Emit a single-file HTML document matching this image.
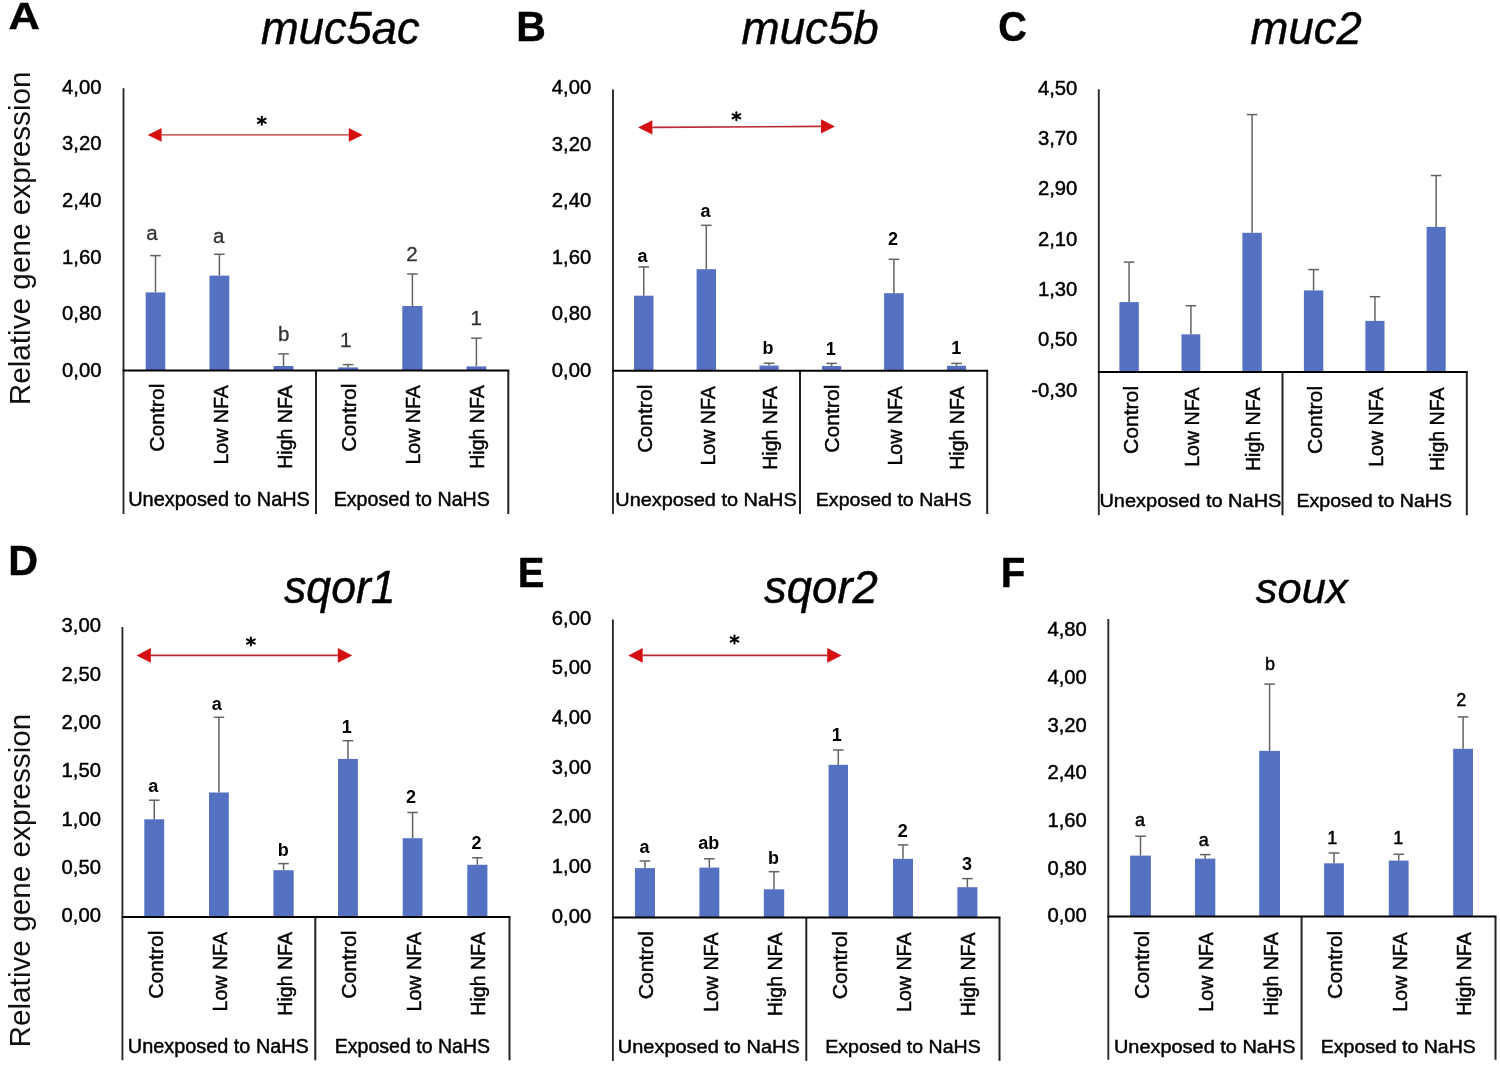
<!DOCTYPE html>
<html><head><meta charset="utf-8"><style>
html,body{margin:0;padding:0;background:#fff;}
svg{display:block;font-family:"Liberation Sans", sans-serif;will-change:transform;}
</style></head><body>
<svg width="1500" height="1072" viewBox="0 0 1500 1072">
<rect width="1500" height="1072" fill="#fff"/>
<rect x="145.70" y="292.40" width="19.60" height="78.20" fill="#5471C2"/>
<rect x="209.50" y="275.60" width="19.80" height="95.00" fill="#5471C2"/>
<rect x="273.50" y="366.00" width="20.00" height="4.60" fill="#5471C2"/>
<rect x="338.10" y="367.40" width="20.00" height="3.20" fill="#5471C2"/>
<rect x="402.30" y="306.00" width="20.20" height="64.60" fill="#5471C2"/>
<rect x="466.50" y="366.40" width="19.80" height="4.20" fill="#5471C2"/>
<line x1="155.50" y1="292.40" x2="155.50" y2="255.60" stroke="#636363" stroke-width="1.5"/>
<line x1="150.20" y1="255.60" x2="160.80" y2="255.60" stroke="#636363" stroke-width="1.5"/>
<line x1="219.40" y1="275.60" x2="219.40" y2="254.30" stroke="#636363" stroke-width="1.5"/>
<line x1="214.10" y1="254.30" x2="224.70" y2="254.30" stroke="#636363" stroke-width="1.5"/>
<line x1="283.50" y1="366.00" x2="283.50" y2="353.90" stroke="#636363" stroke-width="1.5"/>
<line x1="278.20" y1="353.90" x2="288.80" y2="353.90" stroke="#636363" stroke-width="1.5"/>
<line x1="348.10" y1="367.40" x2="348.10" y2="364.60" stroke="#636363" stroke-width="1.5"/>
<line x1="342.80" y1="364.60" x2="353.40" y2="364.60" stroke="#636363" stroke-width="1.5"/>
<line x1="412.40" y1="306.00" x2="412.40" y2="274.00" stroke="#636363" stroke-width="1.5"/>
<line x1="407.10" y1="274.00" x2="417.70" y2="274.00" stroke="#636363" stroke-width="1.5"/>
<line x1="476.40" y1="366.40" x2="476.40" y2="338.20" stroke="#636363" stroke-width="1.5"/>
<line x1="471.10" y1="338.20" x2="481.70" y2="338.20" stroke="#636363" stroke-width="1.5"/>
<line x1="123.5" y1="88.2" x2="123.5" y2="514.0" stroke="#2a2a2a" stroke-width="1.9"/>
<line x1="316.0" y1="370.6" x2="316.0" y2="514.0" stroke="#222" stroke-width="2"/>
<line x1="508.3" y1="370.6" x2="508.3" y2="514.0" stroke="#222" stroke-width="2"/>
<line x1="122.6" y1="370.6" x2="509.2" y2="370.6" stroke="#000" stroke-width="2"/>
<text transform="translate(62.08,93.55) scale(0.2025,0.2034)" font-size="100" fill="#000" stroke="#000" stroke-width="0.45" vector-effect="non-scaling-stroke">4,00</text>
<text transform="translate(62.08,150.23) scale(0.2025,0.2034)" font-size="100" fill="#000" stroke="#000" stroke-width="0.45" vector-effect="non-scaling-stroke">3,20</text>
<text transform="translate(62.08,206.91) scale(0.2025,0.2034)" font-size="100" fill="#000" stroke="#000" stroke-width="0.45" vector-effect="non-scaling-stroke">2,40</text>
<text transform="translate(62.08,263.59) scale(0.2025,0.2034)" font-size="100" fill="#000" stroke="#000" stroke-width="0.45" vector-effect="non-scaling-stroke">1,60</text>
<text transform="translate(62.08,320.27) scale(0.2025,0.2034)" font-size="100" fill="#000" stroke="#000" stroke-width="0.45" vector-effect="non-scaling-stroke">0,80</text>
<text transform="translate(62.08,376.95) scale(0.2025,0.2034)" font-size="100" fill="#000" stroke="#000" stroke-width="0.45" vector-effect="non-scaling-stroke">0,00</text>
<text transform="translate(163.67,451.79) rotate(-90) scale(0.2115,0.2111)" font-size="100" stroke="#000" stroke-width="0.45" vector-effect="non-scaling-stroke" fill="#000">Control</text>
<text transform="translate(227.80,464.53) rotate(-90) scale(0.1958,0.2111)" font-size="100" stroke="#000" stroke-width="0.45" vector-effect="non-scaling-stroke" fill="#000">Low NFA</text>
<text transform="translate(291.93,468.73) rotate(-90) scale(0.1954,0.2111)" font-size="100" stroke="#000" stroke-width="0.45" vector-effect="non-scaling-stroke" fill="#000">High NFA</text>
<text transform="translate(356.07,451.79) rotate(-90) scale(0.2115,0.2111)" font-size="100" stroke="#000" stroke-width="0.45" vector-effect="non-scaling-stroke" fill="#000">Control</text>
<text transform="translate(420.20,464.53) rotate(-90) scale(0.1958,0.2111)" font-size="100" stroke="#000" stroke-width="0.45" vector-effect="non-scaling-stroke" fill="#000">Low NFA</text>
<text transform="translate(484.33,468.73) rotate(-90) scale(0.1954,0.2111)" font-size="100" stroke="#000" stroke-width="0.45" vector-effect="non-scaling-stroke" fill="#000">High NFA</text>
<text transform="translate(128.15,506.40) scale(0.1996,0.1961)" font-size="100" stroke="#000" stroke-width="0.45" vector-effect="non-scaling-stroke" fill="#000">Unexposed to NaHS</text>
<text transform="translate(333.66,506.40) scale(0.1967,0.1961)" font-size="100" stroke="#000" stroke-width="0.45" vector-effect="non-scaling-stroke" fill="#000">Exposed to NaHS</text>
<rect x="634.00" y="295.70" width="19.50" height="75.10" fill="#5471C2"/>
<rect x="696.60" y="269.20" width="19.40" height="101.60" fill="#5471C2"/>
<rect x="759.50" y="365.60" width="19.20" height="5.20" fill="#5471C2"/>
<rect x="822.00" y="366.00" width="19.20" height="4.80" fill="#5471C2"/>
<rect x="884.10" y="293.20" width="19.60" height="77.60" fill="#5471C2"/>
<rect x="947.00" y="365.80" width="19.00" height="5.00" fill="#5471C2"/>
<line x1="643.75" y1="295.70" x2="643.75" y2="266.90" stroke="#636363" stroke-width="1.5"/>
<line x1="638.45" y1="266.90" x2="649.05" y2="266.90" stroke="#636363" stroke-width="1.5"/>
<line x1="706.30" y1="269.20" x2="706.30" y2="225.30" stroke="#636363" stroke-width="1.5"/>
<line x1="701.00" y1="225.30" x2="711.60" y2="225.30" stroke="#636363" stroke-width="1.5"/>
<line x1="769.10" y1="365.60" x2="769.10" y2="363.20" stroke="#636363" stroke-width="1.5"/>
<line x1="763.80" y1="363.20" x2="774.40" y2="363.20" stroke="#636363" stroke-width="1.5"/>
<line x1="831.60" y1="366.00" x2="831.60" y2="363.40" stroke="#636363" stroke-width="1.5"/>
<line x1="826.30" y1="363.40" x2="836.90" y2="363.40" stroke="#636363" stroke-width="1.5"/>
<line x1="893.90" y1="293.20" x2="893.90" y2="259.30" stroke="#636363" stroke-width="1.5"/>
<line x1="888.60" y1="259.30" x2="899.20" y2="259.30" stroke="#636363" stroke-width="1.5"/>
<line x1="956.50" y1="365.80" x2="956.50" y2="363.40" stroke="#636363" stroke-width="1.5"/>
<line x1="951.20" y1="363.40" x2="961.80" y2="363.40" stroke="#636363" stroke-width="1.5"/>
<line x1="613.0" y1="89.6" x2="613.0" y2="514.0" stroke="#2a2a2a" stroke-width="1.9"/>
<line x1="800.0" y1="370.8" x2="800.0" y2="514.0" stroke="#222" stroke-width="2"/>
<line x1="987.2" y1="370.8" x2="987.2" y2="514.0" stroke="#222" stroke-width="2"/>
<line x1="612.1" y1="370.8" x2="988.1" y2="370.8" stroke="#000" stroke-width="2"/>
<text transform="translate(551.78,94.05) scale(0.2025,0.2034)" font-size="100" fill="#000" stroke="#000" stroke-width="0.45" vector-effect="non-scaling-stroke">4,00</text>
<text transform="translate(551.78,150.65) scale(0.2025,0.2034)" font-size="100" fill="#000" stroke="#000" stroke-width="0.45" vector-effect="non-scaling-stroke">3,20</text>
<text transform="translate(551.78,207.25) scale(0.2025,0.2034)" font-size="100" fill="#000" stroke="#000" stroke-width="0.45" vector-effect="non-scaling-stroke">2,40</text>
<text transform="translate(551.78,263.85) scale(0.2025,0.2034)" font-size="100" fill="#000" stroke="#000" stroke-width="0.45" vector-effect="non-scaling-stroke">1,60</text>
<text transform="translate(551.78,320.45) scale(0.2025,0.2034)" font-size="100" fill="#000" stroke="#000" stroke-width="0.45" vector-effect="non-scaling-stroke">0,80</text>
<text transform="translate(551.78,377.05) scale(0.2025,0.2034)" font-size="100" fill="#000" stroke="#000" stroke-width="0.45" vector-effect="non-scaling-stroke">0,00</text>
<text transform="translate(652.28,452.79) rotate(-90) scale(0.2115,0.2111)" font-size="100" stroke="#000" stroke-width="0.45" vector-effect="non-scaling-stroke" fill="#000">Control</text>
<text transform="translate(714.65,465.53) rotate(-90) scale(0.1958,0.2111)" font-size="100" stroke="#000" stroke-width="0.45" vector-effect="non-scaling-stroke" fill="#000">Low NFA</text>
<text transform="translate(777.02,469.73) rotate(-90) scale(0.1954,0.2111)" font-size="100" stroke="#000" stroke-width="0.45" vector-effect="non-scaling-stroke" fill="#000">High NFA</text>
<text transform="translate(839.38,452.79) rotate(-90) scale(0.2115,0.2111)" font-size="100" stroke="#000" stroke-width="0.45" vector-effect="non-scaling-stroke" fill="#000">Control</text>
<text transform="translate(901.75,465.53) rotate(-90) scale(0.1958,0.2111)" font-size="100" stroke="#000" stroke-width="0.45" vector-effect="non-scaling-stroke" fill="#000">Low NFA</text>
<text transform="translate(964.12,469.73) rotate(-90) scale(0.1954,0.2111)" font-size="100" stroke="#000" stroke-width="0.45" vector-effect="non-scaling-stroke" fill="#000">High NFA</text>
<text transform="translate(615.26,506.00) scale(0.1992,0.1811)" font-size="100" stroke="#000" stroke-width="0.45" vector-effect="non-scaling-stroke" fill="#000">Unexposed to NaHS</text>
<text transform="translate(815.77,506.00) scale(0.1959,0.1811)" font-size="100" stroke="#000" stroke-width="0.45" vector-effect="non-scaling-stroke" fill="#000">Exposed to NaHS</text>
<rect x="1119.40" y="302.10" width="19.40" height="69.90" fill="#5471C2"/>
<rect x="1181.50" y="334.30" width="18.80" height="37.70" fill="#5471C2"/>
<rect x="1242.40" y="232.80" width="19.40" height="139.20" fill="#5471C2"/>
<rect x="1303.90" y="290.40" width="19.40" height="81.60" fill="#5471C2"/>
<rect x="1365.40" y="320.90" width="19.10" height="51.10" fill="#5471C2"/>
<rect x="1426.60" y="226.90" width="19.10" height="145.10" fill="#5471C2"/>
<line x1="1129.10" y1="302.10" x2="1129.10" y2="262.10" stroke="#636363" stroke-width="1.5"/>
<line x1="1123.80" y1="262.10" x2="1134.40" y2="262.10" stroke="#636363" stroke-width="1.5"/>
<line x1="1190.90" y1="334.30" x2="1190.90" y2="305.70" stroke="#636363" stroke-width="1.5"/>
<line x1="1185.60" y1="305.70" x2="1196.20" y2="305.70" stroke="#636363" stroke-width="1.5"/>
<line x1="1252.10" y1="232.80" x2="1252.10" y2="114.60" stroke="#636363" stroke-width="1.5"/>
<line x1="1246.80" y1="114.60" x2="1257.40" y2="114.60" stroke="#636363" stroke-width="1.5"/>
<line x1="1313.60" y1="290.40" x2="1313.60" y2="269.60" stroke="#636363" stroke-width="1.5"/>
<line x1="1308.30" y1="269.60" x2="1318.90" y2="269.60" stroke="#636363" stroke-width="1.5"/>
<line x1="1374.95" y1="320.90" x2="1374.95" y2="296.70" stroke="#636363" stroke-width="1.5"/>
<line x1="1369.65" y1="296.70" x2="1380.25" y2="296.70" stroke="#636363" stroke-width="1.5"/>
<line x1="1436.15" y1="226.90" x2="1436.15" y2="175.50" stroke="#636363" stroke-width="1.5"/>
<line x1="1430.85" y1="175.50" x2="1441.45" y2="175.50" stroke="#636363" stroke-width="1.5"/>
<line x1="1098.8" y1="89.3" x2="1098.8" y2="515.3" stroke="#2a2a2a" stroke-width="1.9"/>
<line x1="1282.5" y1="372.0" x2="1282.5" y2="515.3" stroke="#222" stroke-width="2"/>
<line x1="1466.8" y1="372.0" x2="1466.8" y2="515.3" stroke="#222" stroke-width="2"/>
<line x1="1097.8999999999999" y1="372.0" x2="1467.7" y2="372.0" stroke="#000" stroke-width="2"/>
<text transform="translate(1037.88,94.54) scale(0.2025,0.2034)" font-size="100" fill="#000" stroke="#000" stroke-width="0.45" vector-effect="non-scaling-stroke">4,50</text>
<text transform="translate(1037.88,144.91) scale(0.2025,0.2034)" font-size="100" fill="#000" stroke="#000" stroke-width="0.45" vector-effect="non-scaling-stroke">3,70</text>
<text transform="translate(1037.88,195.28) scale(0.2025,0.2034)" font-size="100" fill="#000" stroke="#000" stroke-width="0.45" vector-effect="non-scaling-stroke">2,90</text>
<text transform="translate(1037.88,245.65) scale(0.2025,0.2034)" font-size="100" fill="#000" stroke="#000" stroke-width="0.45" vector-effect="non-scaling-stroke">2,10</text>
<text transform="translate(1037.88,296.01) scale(0.2025,0.2034)" font-size="100" fill="#000" stroke="#000" stroke-width="0.45" vector-effect="non-scaling-stroke">1,30</text>
<text transform="translate(1037.88,346.38) scale(0.2025,0.2034)" font-size="100" fill="#000" stroke="#000" stroke-width="0.45" vector-effect="non-scaling-stroke">0,50</text>
<text transform="translate(1031.14,396.75) scale(0.2025,0.2034)" font-size="100" fill="#000" stroke="#000" stroke-width="0.45" vector-effect="non-scaling-stroke">-0,30</text>
<text transform="translate(1137.57,454.09) rotate(-90) scale(0.2115,0.2111)" font-size="100" stroke="#000" stroke-width="0.45" vector-effect="non-scaling-stroke" fill="#000">Control</text>
<text transform="translate(1198.90,466.83) rotate(-90) scale(0.1958,0.2111)" font-size="100" stroke="#000" stroke-width="0.45" vector-effect="non-scaling-stroke" fill="#000">Low NFA</text>
<text transform="translate(1260.23,471.03) rotate(-90) scale(0.1954,0.2111)" font-size="100" stroke="#000" stroke-width="0.45" vector-effect="non-scaling-stroke" fill="#000">High NFA</text>
<text transform="translate(1321.57,454.09) rotate(-90) scale(0.2115,0.2111)" font-size="100" stroke="#000" stroke-width="0.45" vector-effect="non-scaling-stroke" fill="#000">Control</text>
<text transform="translate(1382.90,466.83) rotate(-90) scale(0.1958,0.2111)" font-size="100" stroke="#000" stroke-width="0.45" vector-effect="non-scaling-stroke" fill="#000">Low NFA</text>
<text transform="translate(1444.23,471.03) rotate(-90) scale(0.1954,0.2111)" font-size="100" stroke="#000" stroke-width="0.45" vector-effect="non-scaling-stroke" fill="#000">High NFA</text>
<text transform="translate(1099.45,507.30) scale(0.1997,0.1811)" font-size="100" stroke="#000" stroke-width="0.45" vector-effect="non-scaling-stroke" fill="#000">Unexposed to NaHS</text>
<text transform="translate(1296.47,507.30) scale(0.1958,0.1811)" font-size="100" stroke="#000" stroke-width="0.45" vector-effect="non-scaling-stroke" fill="#000">Exposed to NaHS</text>
<rect x="144.30" y="819.30" width="19.90" height="97.70" fill="#5471C2"/>
<rect x="209.00" y="792.50" width="19.80" height="124.50" fill="#5471C2"/>
<rect x="273.40" y="870.20" width="20.30" height="46.80" fill="#5471C2"/>
<rect x="338.00" y="758.90" width="19.90" height="158.10" fill="#5471C2"/>
<rect x="402.70" y="838.20" width="19.80" height="78.80" fill="#5471C2"/>
<rect x="467.30" y="864.80" width="20.10" height="52.20" fill="#5471C2"/>
<line x1="154.25" y1="819.30" x2="154.25" y2="800.20" stroke="#636363" stroke-width="1.5"/>
<line x1="148.95" y1="800.20" x2="159.55" y2="800.20" stroke="#636363" stroke-width="1.5"/>
<line x1="218.90" y1="792.50" x2="218.90" y2="717.30" stroke="#636363" stroke-width="1.5"/>
<line x1="213.60" y1="717.30" x2="224.20" y2="717.30" stroke="#636363" stroke-width="1.5"/>
<line x1="283.55" y1="870.20" x2="283.55" y2="863.60" stroke="#636363" stroke-width="1.5"/>
<line x1="278.25" y1="863.60" x2="288.85" y2="863.60" stroke="#636363" stroke-width="1.5"/>
<line x1="347.95" y1="758.90" x2="347.95" y2="740.70" stroke="#636363" stroke-width="1.5"/>
<line x1="342.65" y1="740.70" x2="353.25" y2="740.70" stroke="#636363" stroke-width="1.5"/>
<line x1="412.60" y1="838.20" x2="412.60" y2="812.50" stroke="#636363" stroke-width="1.5"/>
<line x1="407.30" y1="812.50" x2="417.90" y2="812.50" stroke="#636363" stroke-width="1.5"/>
<line x1="477.35" y1="864.80" x2="477.35" y2="857.80" stroke="#636363" stroke-width="1.5"/>
<line x1="472.05" y1="857.80" x2="482.65" y2="857.80" stroke="#636363" stroke-width="1.5"/>
<line x1="122.4" y1="627.1" x2="122.4" y2="1060.3" stroke="#2a2a2a" stroke-width="1.9"/>
<line x1="315.3" y1="917.0" x2="315.3" y2="1060.3" stroke="#222" stroke-width="2"/>
<line x1="509.5" y1="917.0" x2="509.5" y2="1060.3" stroke="#222" stroke-width="2"/>
<line x1="121.5" y1="917.0" x2="510.4" y2="917.0" stroke="#000" stroke-width="2"/>
<text transform="translate(61.58,632.45) scale(0.2025,0.2034)" font-size="100" fill="#000" stroke="#000" stroke-width="0.45" vector-effect="non-scaling-stroke">3,00</text>
<text transform="translate(61.58,680.75) scale(0.2025,0.2034)" font-size="100" fill="#000" stroke="#000" stroke-width="0.45" vector-effect="non-scaling-stroke">2,50</text>
<text transform="translate(61.58,729.05) scale(0.2025,0.2034)" font-size="100" fill="#000" stroke="#000" stroke-width="0.45" vector-effect="non-scaling-stroke">2,00</text>
<text transform="translate(61.58,777.35) scale(0.2025,0.2034)" font-size="100" fill="#000" stroke="#000" stroke-width="0.45" vector-effect="non-scaling-stroke">1,50</text>
<text transform="translate(61.58,825.65) scale(0.2025,0.2034)" font-size="100" fill="#000" stroke="#000" stroke-width="0.45" vector-effect="non-scaling-stroke">1,00</text>
<text transform="translate(61.58,873.95) scale(0.2025,0.2034)" font-size="100" fill="#000" stroke="#000" stroke-width="0.45" vector-effect="non-scaling-stroke">0,50</text>
<text transform="translate(61.58,922.25) scale(0.2025,0.2034)" font-size="100" fill="#000" stroke="#000" stroke-width="0.45" vector-effect="non-scaling-stroke">0,00</text>
<text transform="translate(162.76,998.69) rotate(-90) scale(0.2115,0.2111)" font-size="100" stroke="#000" stroke-width="0.45" vector-effect="non-scaling-stroke" fill="#000">Control</text>
<text transform="translate(227.28,1011.43) rotate(-90) scale(0.1958,0.2111)" font-size="100" stroke="#000" stroke-width="0.45" vector-effect="non-scaling-stroke" fill="#000">Low NFA</text>
<text transform="translate(291.79,1015.63) rotate(-90) scale(0.1954,0.2111)" font-size="100" stroke="#000" stroke-width="0.45" vector-effect="non-scaling-stroke" fill="#000">High NFA</text>
<text transform="translate(356.31,998.69) rotate(-90) scale(0.2115,0.2111)" font-size="100" stroke="#000" stroke-width="0.45" vector-effect="non-scaling-stroke" fill="#000">Control</text>
<text transform="translate(420.83,1011.43) rotate(-90) scale(0.1958,0.2111)" font-size="100" stroke="#000" stroke-width="0.45" vector-effect="non-scaling-stroke" fill="#000">Low NFA</text>
<text transform="translate(485.34,1015.63) rotate(-90) scale(0.1954,0.2111)" font-size="100" stroke="#000" stroke-width="0.45" vector-effect="non-scaling-stroke" fill="#000">High NFA</text>
<text transform="translate(127.86,1052.70) scale(0.1986,0.1934)" font-size="100" stroke="#000" stroke-width="0.45" vector-effect="non-scaling-stroke" fill="#000">Unexposed to NaHS</text>
<text transform="translate(334.77,1052.70) scale(0.1954,0.1934)" font-size="100" stroke="#000" stroke-width="0.45" vector-effect="non-scaling-stroke" fill="#000">Exposed to NaHS</text>
<rect x="635.00" y="868.10" width="20.00" height="49.40" fill="#5471C2"/>
<rect x="699.40" y="867.60" width="19.90" height="49.90" fill="#5471C2"/>
<rect x="763.80" y="889.30" width="20.40" height="28.20" fill="#5471C2"/>
<rect x="828.60" y="764.80" width="19.40" height="152.70" fill="#5471C2"/>
<rect x="893.00" y="858.80" width="20.00" height="58.70" fill="#5471C2"/>
<rect x="957.40" y="887.20" width="20.00" height="30.30" fill="#5471C2"/>
<line x1="645.00" y1="868.10" x2="645.00" y2="861.00" stroke="#636363" stroke-width="1.5"/>
<line x1="639.70" y1="861.00" x2="650.30" y2="861.00" stroke="#636363" stroke-width="1.5"/>
<line x1="709.35" y1="867.60" x2="709.35" y2="858.80" stroke="#636363" stroke-width="1.5"/>
<line x1="704.05" y1="858.80" x2="714.65" y2="858.80" stroke="#636363" stroke-width="1.5"/>
<line x1="774.00" y1="889.30" x2="774.00" y2="871.70" stroke="#636363" stroke-width="1.5"/>
<line x1="768.70" y1="871.70" x2="779.30" y2="871.70" stroke="#636363" stroke-width="1.5"/>
<line x1="838.30" y1="764.80" x2="838.30" y2="750.00" stroke="#636363" stroke-width="1.5"/>
<line x1="833.00" y1="750.00" x2="843.60" y2="750.00" stroke="#636363" stroke-width="1.5"/>
<line x1="903.00" y1="858.80" x2="903.00" y2="844.90" stroke="#636363" stroke-width="1.5"/>
<line x1="897.70" y1="844.90" x2="908.30" y2="844.90" stroke="#636363" stroke-width="1.5"/>
<line x1="967.40" y1="887.20" x2="967.40" y2="878.60" stroke="#636363" stroke-width="1.5"/>
<line x1="962.10" y1="878.60" x2="972.70" y2="878.60" stroke="#636363" stroke-width="1.5"/>
<line x1="612.9" y1="619.5" x2="612.9" y2="1060.9" stroke="#2a2a2a" stroke-width="1.9"/>
<line x1="806.3" y1="917.5" x2="806.3" y2="1060.9" stroke="#222" stroke-width="2"/>
<line x1="999.5" y1="917.5" x2="999.5" y2="1060.9" stroke="#222" stroke-width="2"/>
<line x1="612.0" y1="917.5" x2="1000.4" y2="917.5" stroke="#000" stroke-width="2"/>
<text transform="translate(551.78,624.65) scale(0.2025,0.2034)" font-size="100" fill="#000" stroke="#000" stroke-width="0.45" vector-effect="non-scaling-stroke">6,00</text>
<text transform="translate(551.78,674.35) scale(0.2025,0.2034)" font-size="100" fill="#000" stroke="#000" stroke-width="0.45" vector-effect="non-scaling-stroke">5,00</text>
<text transform="translate(551.78,724.05) scale(0.2025,0.2034)" font-size="100" fill="#000" stroke="#000" stroke-width="0.45" vector-effect="non-scaling-stroke">4,00</text>
<text transform="translate(551.78,773.75) scale(0.2025,0.2034)" font-size="100" fill="#000" stroke="#000" stroke-width="0.45" vector-effect="non-scaling-stroke">3,00</text>
<text transform="translate(551.78,823.45) scale(0.2025,0.2034)" font-size="100" fill="#000" stroke="#000" stroke-width="0.45" vector-effect="non-scaling-stroke">2,00</text>
<text transform="translate(551.78,873.15) scale(0.2025,0.2034)" font-size="100" fill="#000" stroke="#000" stroke-width="0.45" vector-effect="non-scaling-stroke">1,00</text>
<text transform="translate(551.78,922.85) scale(0.2025,0.2034)" font-size="100" fill="#000" stroke="#000" stroke-width="0.45" vector-effect="non-scaling-stroke">0,00</text>
<text transform="translate(653.22,999.19) rotate(-90) scale(0.2115,0.2111)" font-size="100" stroke="#000" stroke-width="0.45" vector-effect="non-scaling-stroke" fill="#000">Control</text>
<text transform="translate(717.65,1011.93) rotate(-90) scale(0.1958,0.2111)" font-size="100" stroke="#000" stroke-width="0.45" vector-effect="non-scaling-stroke" fill="#000">Low NFA</text>
<text transform="translate(782.08,1016.13) rotate(-90) scale(0.1954,0.2111)" font-size="100" stroke="#000" stroke-width="0.45" vector-effect="non-scaling-stroke" fill="#000">High NFA</text>
<text transform="translate(846.52,999.19) rotate(-90) scale(0.2115,0.2111)" font-size="100" stroke="#000" stroke-width="0.45" vector-effect="non-scaling-stroke" fill="#000">Control</text>
<text transform="translate(910.95,1011.93) rotate(-90) scale(0.1958,0.2111)" font-size="100" stroke="#000" stroke-width="0.45" vector-effect="non-scaling-stroke" fill="#000">Low NFA</text>
<text transform="translate(975.38,1016.13) rotate(-90) scale(0.1954,0.2111)" font-size="100" stroke="#000" stroke-width="0.45" vector-effect="non-scaling-stroke" fill="#000">High NFA</text>
<text transform="translate(617.85,1052.70) scale(0.1996,0.1866)" font-size="100" stroke="#000" stroke-width="0.45" vector-effect="non-scaling-stroke" fill="#000">Unexposed to NaHS</text>
<text transform="translate(825.27,1052.70) scale(0.1956,0.1866)" font-size="100" stroke="#000" stroke-width="0.45" vector-effect="non-scaling-stroke" fill="#000">Exposed to NaHS</text>
<rect x="1130.10" y="855.60" width="20.80" height="61.00" fill="#5471C2"/>
<rect x="1195.00" y="858.60" width="20.30" height="58.00" fill="#5471C2"/>
<rect x="1259.20" y="750.90" width="20.80" height="165.70" fill="#5471C2"/>
<rect x="1324.10" y="863.30" width="19.80" height="53.30" fill="#5471C2"/>
<rect x="1388.80" y="860.60" width="19.80" height="56.00" fill="#5471C2"/>
<rect x="1453.20" y="748.80" width="19.80" height="167.80" fill="#5471C2"/>
<line x1="1140.50" y1="855.60" x2="1140.50" y2="836.20" stroke="#636363" stroke-width="1.5"/>
<line x1="1135.20" y1="836.20" x2="1145.80" y2="836.20" stroke="#636363" stroke-width="1.5"/>
<line x1="1205.15" y1="858.60" x2="1205.15" y2="854.60" stroke="#636363" stroke-width="1.5"/>
<line x1="1199.85" y1="854.60" x2="1210.45" y2="854.60" stroke="#636363" stroke-width="1.5"/>
<line x1="1269.60" y1="750.90" x2="1269.60" y2="684.10" stroke="#636363" stroke-width="1.5"/>
<line x1="1264.30" y1="684.10" x2="1274.90" y2="684.10" stroke="#636363" stroke-width="1.5"/>
<line x1="1334.00" y1="863.30" x2="1334.00" y2="853.00" stroke="#636363" stroke-width="1.5"/>
<line x1="1328.70" y1="853.00" x2="1339.30" y2="853.00" stroke="#636363" stroke-width="1.5"/>
<line x1="1398.70" y1="860.60" x2="1398.70" y2="854.30" stroke="#636363" stroke-width="1.5"/>
<line x1="1393.40" y1="854.30" x2="1404.00" y2="854.30" stroke="#636363" stroke-width="1.5"/>
<line x1="1463.10" y1="748.80" x2="1463.10" y2="716.90" stroke="#636363" stroke-width="1.5"/>
<line x1="1457.80" y1="716.90" x2="1468.40" y2="716.90" stroke="#636363" stroke-width="1.5"/>
<line x1="1108.3" y1="619.1" x2="1108.3" y2="1059.8" stroke="#2a2a2a" stroke-width="1.9"/>
<line x1="1301.6" y1="916.6" x2="1301.6" y2="1059.8" stroke="#222" stroke-width="2"/>
<line x1="1495.5" y1="916.6" x2="1495.5" y2="1059.8" stroke="#222" stroke-width="2"/>
<line x1="1107.3999999999999" y1="916.6" x2="1496.4" y2="916.6" stroke="#000" stroke-width="2"/>
<text transform="translate(1047.38,636.17) scale(0.2025,0.2034)" font-size="100" fill="#000" stroke="#000" stroke-width="0.45" vector-effect="non-scaling-stroke">4,80</text>
<text transform="translate(1047.38,683.85) scale(0.2025,0.2034)" font-size="100" fill="#000" stroke="#000" stroke-width="0.45" vector-effect="non-scaling-stroke">4,00</text>
<text transform="translate(1047.38,731.53) scale(0.2025,0.2034)" font-size="100" fill="#000" stroke="#000" stroke-width="0.45" vector-effect="non-scaling-stroke">3,20</text>
<text transform="translate(1047.38,779.21) scale(0.2025,0.2034)" font-size="100" fill="#000" stroke="#000" stroke-width="0.45" vector-effect="non-scaling-stroke">2,40</text>
<text transform="translate(1047.38,826.89) scale(0.2025,0.2034)" font-size="100" fill="#000" stroke="#000" stroke-width="0.45" vector-effect="non-scaling-stroke">1,60</text>
<text transform="translate(1047.38,874.57) scale(0.2025,0.2034)" font-size="100" fill="#000" stroke="#000" stroke-width="0.45" vector-effect="non-scaling-stroke">0,80</text>
<text transform="translate(1047.38,922.25) scale(0.2025,0.2034)" font-size="100" fill="#000" stroke="#000" stroke-width="0.45" vector-effect="non-scaling-stroke">0,00</text>
<text transform="translate(1148.67,998.89) rotate(-90) scale(0.2115,0.2111)" font-size="100" stroke="#000" stroke-width="0.45" vector-effect="non-scaling-stroke" fill="#000">Control</text>
<text transform="translate(1213.20,1011.63) rotate(-90) scale(0.1958,0.2111)" font-size="100" stroke="#000" stroke-width="0.45" vector-effect="non-scaling-stroke" fill="#000">Low NFA</text>
<text transform="translate(1277.73,1015.83) rotate(-90) scale(0.1954,0.2111)" font-size="100" stroke="#000" stroke-width="0.45" vector-effect="non-scaling-stroke" fill="#000">High NFA</text>
<text transform="translate(1342.27,998.89) rotate(-90) scale(0.2115,0.2111)" font-size="100" stroke="#000" stroke-width="0.45" vector-effect="non-scaling-stroke" fill="#000">Control</text>
<text transform="translate(1406.80,1011.63) rotate(-90) scale(0.1958,0.2111)" font-size="100" stroke="#000" stroke-width="0.45" vector-effect="non-scaling-stroke" fill="#000">Low NFA</text>
<text transform="translate(1471.33,1015.83) rotate(-90) scale(0.1954,0.2111)" font-size="100" stroke="#000" stroke-width="0.45" vector-effect="non-scaling-stroke" fill="#000">High NFA</text>
<text transform="translate(1113.95,1052.50) scale(0.1993,0.1838)" font-size="100" stroke="#000" stroke-width="0.45" vector-effect="non-scaling-stroke" fill="#000">Unexposed to NaHS</text>
<text transform="translate(1320.78,1052.50) scale(0.1952,0.1838)" font-size="100" stroke="#000" stroke-width="0.45" vector-effect="non-scaling-stroke" fill="#000">Exposed to NaHS</text>
<text x="152.00" y="240.00" font-size="20.5" font-weight="normal" fill="#333" stroke="#333" stroke-width="0.3" text-anchor="middle">a</text>
<text x="218.80" y="243.00" font-size="20.5" font-weight="normal" fill="#333" stroke="#333" stroke-width="0.3" text-anchor="middle">a</text>
<text x="283.80" y="340.90" font-size="20.5" font-weight="normal" fill="#333" stroke="#333" stroke-width="0.3" text-anchor="middle">b</text>
<text x="345.70" y="347.40" font-size="20.5" font-weight="normal" fill="#333" stroke="#333" stroke-width="0.3" text-anchor="middle">1</text>
<text x="412.00" y="261.20" font-size="20.5" font-weight="normal" fill="#333" stroke="#333" stroke-width="0.3" text-anchor="middle">2</text>
<text x="476.30" y="324.60" font-size="20.5" font-weight="normal" fill="#333" stroke="#333" stroke-width="0.3" text-anchor="middle">1</text>
<text x="642.50" y="262.10" font-size="18.0" font-weight="bold" fill="#000" text-anchor="middle">a</text>
<text x="705.40" y="217.20" font-size="18.0" font-weight="bold" fill="#000" text-anchor="middle">a</text>
<text x="767.90" y="354.40" font-size="18.0" font-weight="bold" fill="#000" text-anchor="middle">b</text>
<text x="830.70" y="355.40" font-size="18.0" font-weight="bold" fill="#000" text-anchor="middle">1</text>
<text x="892.90" y="245.30" font-size="18.0" font-weight="bold" fill="#000" text-anchor="middle">2</text>
<text x="956.30" y="354.40" font-size="18.0" font-weight="bold" fill="#000" text-anchor="middle">1</text>
<text x="153.20" y="792.00" font-size="18.0" font-weight="bold" fill="#000" text-anchor="middle">a</text>
<text x="216.70" y="710.30" font-size="18.0" font-weight="bold" fill="#000" text-anchor="middle">a</text>
<text x="283.20" y="856.20" font-size="18.0" font-weight="bold" fill="#000" text-anchor="middle">b</text>
<text x="346.70" y="732.50" font-size="18.0" font-weight="bold" fill="#000" text-anchor="middle">1</text>
<text x="411.00" y="803.20" font-size="18.0" font-weight="bold" fill="#000" text-anchor="middle">2</text>
<text x="476.60" y="849.20" font-size="18.0" font-weight="bold" fill="#000" text-anchor="middle">2</text>
<text x="644.40" y="852.80" font-size="18.0" font-weight="bold" fill="#000" text-anchor="middle">a</text>
<text x="708.80" y="849.20" font-size="18.0" font-weight="bold" fill="#000" text-anchor="middle">ab</text>
<text x="773.40" y="864.20" font-size="18.0" font-weight="bold" fill="#000" text-anchor="middle">b</text>
<text x="836.80" y="741.20" font-size="18.0" font-weight="bold" fill="#000" text-anchor="middle">1</text>
<text x="902.70" y="836.70" font-size="18.0" font-weight="bold" fill="#000" text-anchor="middle">2</text>
<text x="967.10" y="869.60" font-size="18.0" font-weight="bold" fill="#000" text-anchor="middle">3</text>
<text x="1140.10" y="826.10" font-size="18.0" font-weight="normal" fill="#000" stroke="#000" stroke-width="0.45" text-anchor="middle">a</text>
<text x="1203.70" y="846.40" font-size="18.0" font-weight="normal" fill="#000" stroke="#000" stroke-width="0.45" text-anchor="middle">a</text>
<text x="1270.00" y="670.30" font-size="18.0" font-weight="normal" fill="#000" stroke="#000" stroke-width="0.45" text-anchor="middle">b</text>
<text x="1332.20" y="844.30" font-size="18.0" font-weight="normal" fill="#000" stroke="#000" stroke-width="0.45" text-anchor="middle">1</text>
<text x="1398.30" y="844.30" font-size="18.0" font-weight="normal" fill="#000" stroke="#000" stroke-width="0.45" text-anchor="middle">1</text>
<text x="1461.30" y="706.30" font-size="18.0" font-weight="normal" fill="#000" stroke="#000" stroke-width="0.45" text-anchor="middle">2</text>
<text transform="translate(8.42,28.80) scale(0.4349,0.3783)" font-size="100" font-weight="bold" stroke="#000" stroke-width="0.45" vector-effect="non-scaling-stroke" fill="#000">A</text>
<text transform="translate(516.34,41.30) scale(0.4096,0.4281)" font-size="100" font-weight="bold" stroke="#000" stroke-width="0.45" vector-effect="non-scaling-stroke" fill="#000">B</text>
<text transform="translate(998.26,40.90) scale(0.3959,0.4324)" font-size="100" font-weight="bold" stroke="#000" stroke-width="0.45" vector-effect="non-scaling-stroke" fill="#000">C</text>
<text transform="translate(8.32,575.00) scale(0.4128,0.4224)" font-size="100" font-weight="bold" stroke="#000" stroke-width="0.45" vector-effect="non-scaling-stroke" fill="#000">D</text>
<text transform="translate(517.80,587.20) scale(0.3996,0.4324)" font-size="100" font-weight="bold" stroke="#000" stroke-width="0.45" vector-effect="non-scaling-stroke" fill="#000">E</text>
<text transform="translate(1000.79,587.20) scale(0.4015,0.4281)" font-size="100" font-weight="bold" stroke="#000" stroke-width="0.45" vector-effect="non-scaling-stroke" fill="#000">F</text>
<text transform="translate(260.99,43.70) scale(0.4530,0.4551)" font-size="100" font-style="italic" stroke="#000" stroke-width="0.45" vector-effect="non-scaling-stroke" fill="#000">muc5ac</text>
<text transform="translate(741.59,43.70) scale(0.4573,0.4684)" font-size="100" font-style="italic" stroke="#000" stroke-width="0.45" vector-effect="non-scaling-stroke" fill="#000">muc5b</text>
<text transform="translate(1250.59,43.70) scale(0.4545,0.4551)" font-size="100" font-style="italic" stroke="#000" stroke-width="0.45" vector-effect="non-scaling-stroke" fill="#000">muc2</text>
<text transform="translate(284.00,602.50) scale(0.4466,0.4622)" font-size="100" font-style="italic" stroke="#000" stroke-width="0.45" vector-effect="non-scaling-stroke" fill="#000">sqor1</text>
<text transform="translate(764.00,602.50) scale(0.4554,0.4622)" font-size="100" font-style="italic" stroke="#000" stroke-width="0.45" vector-effect="non-scaling-stroke" fill="#000">sqor2</text>
<text transform="translate(1255.80,602.50) scale(0.4348,0.4297)" font-size="100" font-style="italic" stroke="#000" stroke-width="0.45" vector-effect="non-scaling-stroke" fill="#000">soux</text>
<text transform="translate(29.70,405.32) rotate(-90) scale(0.2975,0.3009)" font-size="100" fill="#111">Relative gene expression</text>
<text transform="translate(30.20,1047.52) rotate(-90) scale(0.2974,0.2928)" font-size="100" fill="#111">Relative gene expression</text>
<line x1="161.60" y1="134.90" x2="348.80" y2="134.90" stroke="#BB2A30" stroke-width="1.2"/>
<polygon points="147.70,134.90 161.60,128.00 161.60,141.80" fill="#D40F0F"/>
<polygon points="362.70,134.90 348.80,128.00 348.80,141.80" fill="#D40F0F"/>
<line x1="652.40" y1="127.40" x2="821.00" y2="126.40" stroke="#BB2A30" stroke-width="1.6"/>
<polygon points="638.10,127.40 652.40,120.30 652.40,134.50" fill="#D40F0F"/>
<polygon points="834.90,126.40 821.00,119.30 821.00,133.50" fill="#D40F0F"/>
<line x1="150.90" y1="655.40" x2="337.80" y2="655.40" stroke="#BB2A30" stroke-width="1.6"/>
<polygon points="136.50,655.40 150.90,648.10 150.90,662.70" fill="#D40F0F"/>
<polygon points="352.20,655.40 337.80,648.10 337.80,662.70" fill="#D40F0F"/>
<line x1="642.70" y1="655.40" x2="827.20" y2="655.40" stroke="#BB2A30" stroke-width="1.6"/>
<polygon points="628.30,655.40 642.70,648.10 642.70,662.70" fill="#D40F0F"/>
<polygon points="841.60,655.40 827.20,648.10 827.20,662.70" fill="#D40F0F"/>
<line x1="261.80" y1="116.80" x2="261.80" y2="124.80" stroke="#000" stroke-width="2" stroke-linecap="round"/>
<line x1="257.90" y1="118.70" x2="265.70" y2="122.90" stroke="#000" stroke-width="2" stroke-linecap="round"/>
<line x1="257.90" y1="122.90" x2="265.70" y2="118.70" stroke="#000" stroke-width="2" stroke-linecap="round"/>
<line x1="736.40" y1="112.30" x2="736.40" y2="120.30" stroke="#000" stroke-width="2" stroke-linecap="round"/>
<line x1="732.50" y1="114.20" x2="740.30" y2="118.40" stroke="#000" stroke-width="2" stroke-linecap="round"/>
<line x1="732.50" y1="118.40" x2="740.30" y2="114.20" stroke="#000" stroke-width="2" stroke-linecap="round"/>
<line x1="250.90" y1="637.50" x2="250.90" y2="645.50" stroke="#000" stroke-width="2" stroke-linecap="round"/>
<line x1="247.00" y1="639.40" x2="254.80" y2="643.60" stroke="#000" stroke-width="2" stroke-linecap="round"/>
<line x1="247.00" y1="643.60" x2="254.80" y2="639.40" stroke="#000" stroke-width="2" stroke-linecap="round"/>
<line x1="734.50" y1="635.50" x2="734.50" y2="643.50" stroke="#000" stroke-width="2" stroke-linecap="round"/>
<line x1="730.60" y1="637.40" x2="738.40" y2="641.60" stroke="#000" stroke-width="2" stroke-linecap="round"/>
<line x1="730.60" y1="641.60" x2="738.40" y2="637.40" stroke="#000" stroke-width="2" stroke-linecap="round"/>
</svg>
</body></html>
